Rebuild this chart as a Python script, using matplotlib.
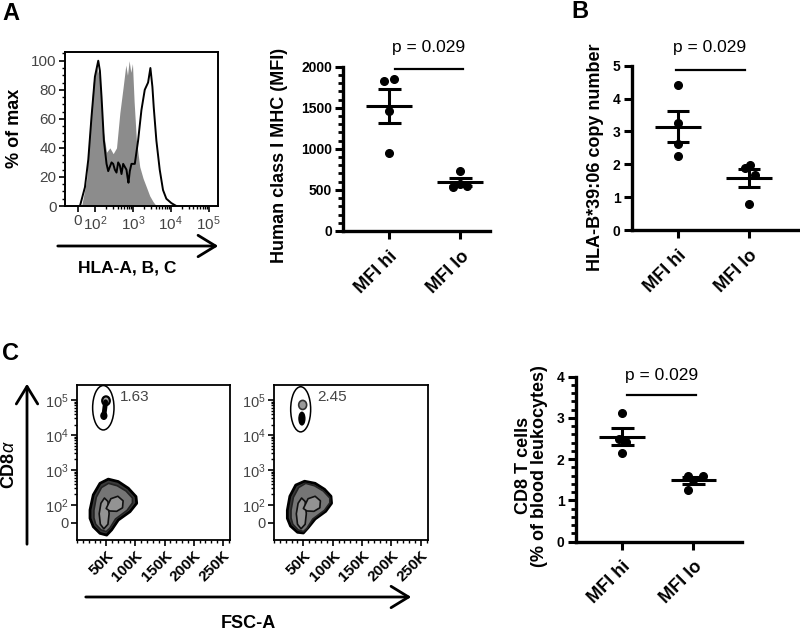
import numpy as np
import matplotlib as mpl
mpl.use('Agg')
import matplotlib.pyplot as plt
from matplotlib.patches import Ellipse, Polygon
from matplotlib.ticker import MultipleLocator, FixedLocator

mpl.rcParams.update({
    "font.family": ["Liberation Sans", "DejaVu Sans"],
    "mathtext.fontset": "custom",
    "mathtext.rm": "Liberation Sans",
    "mathtext.it": "Liberation Sans:italic",
    "mathtext.bf": "Liberation Sans:bold",
})

# ---- panel A: histogram (x in log10 display units, "0" sits at 1.55) ----
hist_fill_t = [1.649, 1.781, 1.868, 1.956, 2.044, 2.132, 2.219, 2.307, 2.395, 2.482, 2.570,
               2.658, 2.746, 2.816, 2.860, 2.904, 2.947, 2.991, 3.035, 3.096, 3.184, 3.272,
               3.360, 3.447, 3.535, 3.623]
hist_fill_pct = [0, 18, 55, 85, 96, 88, 52, 37, 40, 36, 40, 64, 82, 97, 90, 100, 92, 98,
                 72, 45, 27, 19, 13, 7, 3, 0]
hist_line_t = [1.605, 1.737, 1.825, 1.912, 2.0, 2.088, 2.132, 2.175, 2.237, 2.307, 2.351,
               2.395, 2.439, 2.482, 2.526, 2.570, 2.614, 2.658, 2.702, 2.746, 2.789, 2.833,
               2.860, 2.886, 2.921, 2.965, 3.053, 3.140, 3.228, 3.316, 3.404, 3.465, 3.518,
               3.553, 3.623, 3.711, 3.798, 3.886, 4.018, 4.149]
hist_line_pct = [0, 13, 32, 62, 89, 100, 93, 75, 45, 29, 24, 27, 30, 29, 25, 23, 30, 28,
                 22, 29, 27, 25, 20, 16, 24, 29, 29, 45, 66, 80, 85, 95, 82, 68, 45, 25,
                 11, 5, 2, 0]
hist_tick_pos = [1.55, 2, 3, 4, 5]
hist_tick_lab = ['0', '$10^2$', '$10^3$', '$10^4$', '$10^5$']

# ---- dot plots ----
groups = ['MFI hi', 'MFI lo']
mhc_hi = [1830, 1850, 1455, 955]
mhc_lo = [730, 570, 540, 550]
copy_hi = [4.42, 3.27, 2.62, 2.25]
copy_lo = [1.97, 1.90, 1.68, 0.78]
cd8_hi = [3.13, 2.48, 2.42, 2.14]
cd8_lo = [1.60, 1.60, 1.50, 1.25]
mhc_jit = ([-0.075, 0.066, 0, 0], [0, 0, -0.1, 0.1])
copy_jit = ([0, 0, 0, 0], [0.02, -0.06, 0.08, 0])
cd8_jit = ([0, -0.05, 0.06, 0], [-0.07, 0.13, 0, -0.07])
p_text = 'p = 0.029'

# ---- panel C: flow contour plots (FSC-A in K, CD8 in log10 display units) ----
low_outer_l_fsc = [22.3, 27.9, 39.4, 53.6, 70.7, 87.9, 101.1, 102.3, 90.8, 70.7, 59.4,
                   50.9, 39.4, 27.9, 22.3]
low_outer_l_t = [1.86, 2.29, 2.62, 2.74, 2.67, 2.48, 2.24, 2.05, 1.81, 1.57, 1.29, 1.14,
                 1.19, 1.38, 1.62]
low_outer_r_fsc = [22.7, 27, 37, 52, 70, 86, 97, 98, 88, 70, 58, 50, 40, 28, 22.7]
low_outer_r_t = [1.85, 2.25, 2.57, 2.68, 2.62, 2.45, 2.25, 2.05, 1.82, 1.60, 1.35, 1.20,
                 1.22, 1.40, 1.62]
low_mid_fsc = [29, 33, 42, 54, 69, 84, 95, 95, 86, 66, 56, 50, 41, 32, 29]
low_mid_t = [1.85, 2.22, 2.50, 2.62, 2.55, 2.40, 2.20, 2.06, 1.85, 1.60, 1.33, 1.24, 1.29,
             1.45, 1.63]
loop_a_fsc = [40, 46, 53, 55, 53, 47, 41, 38]
loop_a_t = [1.45, 1.32, 1.45, 1.75, 2.10, 2.20, 2.05, 1.75]
loop_b_fsc = [50, 58, 70, 79, 78, 68, 56]
loop_b_t = [1.90, 2.18, 2.25, 2.12, 1.92, 1.82, 1.83]
gate_fsc = [45.1, 45.4]
gate_t = [4.78, 4.735]
gate_w = [36.6, 34.0]
gate_h = [1.27, 1.29]
gate_pct = ['1.63', '2.45']
flow_ytick_pos = [1.486, 2, 3, 4, 5]
flow_ytick_lab = ['0', '$10^2$', '$10^3$', '$10^4$', '$10^5$']
flow_xticks = [50, 100, 150, 200, 250]

W, H = 800, 631
fig = plt.figure(figsize=(W / 100, H / 100), dpi=100)


def px_axes(left, top, right, bottom):
    return fig.add_axes([left / W, 1 - bottom / H, (right - left) / W, (bottom - top) / H])


def px_text(x, y, s, **kw):
    fig.text(x / W, 1 - y / H, s, **kw)


def px_arrow(x0, y0, x1, y1):
    fig.add_artist(mpl.patches.FancyArrowPatch(
        (x0 / W, 1 - y0 / H), (x1 / W, 1 - y1 / H), transform=fig.transFigure,
        arrowstyle='->,head_length=0.9,head_width=0.55', mutation_scale=14,
        lw=2, color='black'))


def dot_plot(ax, hi, lo, jit, ymax, major, minor, xmax, pline, ptext_xy, ylabel, ylab_xy):
    for i, (vals, jj) in enumerate(zip([hi, lo], jit)):
        x = i + 1
        vals = np.asarray(vals)
        m = vals.mean()
        sem = vals.std(ddof=1) / np.sqrt(len(vals))
        ax.plot(x + np.asarray(jj), vals, 'o', color='black', ms=5.5, clip_on=False, zorder=3)
        ax.hlines(m, x - 0.32, x + 0.32, color='black', lw=2.2)
        ax.vlines(x, m - sem, m + sem, color='black', lw=2.2)
        ax.hlines([m - sem, m + sem], x - 0.16, x + 0.16, color='black', lw=2.2)
    for s in ['top', 'right']:
        ax.spines[s].set_visible(False)
    for s in ['left', 'bottom']:
        ax.spines[s].set_linewidth(2.4)
    ax.set_xlim(0.35, xmax)
    ax.set_ylim(0, ymax)
    ticks = np.arange(0, ymax + major / 2, major)
    ax.set_yticks(ticks, [f'{v:g}' for v in ticks], fontsize=10, fontweight='bold')
    if minor:
        ax.yaxis.set_minor_locator(MultipleLocator(minor))
        ax.tick_params(axis='y', which='minor', length=3.5, width=2)
    ax.set_xticks([1, 2], groups, rotation=45, ha='right', rotation_mode='anchor',
                  fontsize=13, fontweight='bold')
    ax.tick_params(axis='both', which='major', length=6, width=2.2)
    ax.tick_params(axis='y', pad=2)
    ax.tick_params(axis='x', pad=6)
    ax.plot(pline[:2], [pline[2]] * 2, color='black', lw=1.6, clip_on=False)
    ax.text(ptext_xy[0], ptext_xy[1], p_text, ha='center', va='center', fontsize=12.5)
    ax.set_ylabel(ylabel, fontsize=13, fontweight='bold', ha='center', va='center',
                  multialignment='center', linespacing=0.95)
    ax.yaxis.set_label_coords(*ylab_xy)


# panel A histogram
ax = px_axes(65, 52, 218, 206)
ax.fill_between(hist_fill_t, hist_fill_pct, color='#8c8c8c', lw=0)
ax.plot(hist_line_t, hist_line_pct, color='black', lw=1.4)
ax.set_xlim(1.21, 5.25)
ax.set_ylim(0, 106)
ax.set_xticks(hist_tick_pos)
ax.set_xticklabels(hist_tick_lab)
ax.xaxis.set_minor_locator(FixedLocator(
    [np.log10(k * 10 ** d) for d in range(2, 5) for k in range(2, 10)]))
ax.yaxis.set_major_locator(MultipleLocator(20))
ax.yaxis.set_minor_locator(MultipleLocator(5))
ax.tick_params(axis='both', which='major', length=4, width=1.2, labelsize=11,
               labelcolor='#444', pad=2)
ax.tick_params(axis='both', which='minor', length=2, width=1)
for s in ax.spines.values():
    s.set_linewidth(1.4)
ax.set_ylabel('% of max', fontsize=13, fontweight='bold', ha='center', va='center')
ax.yaxis.set_label_coords(-0.327, 0.506)
px_arrow(55, 246, 221, 246)
px_text(127, 268, 'HLA-A, B, C', ha='center', va='center', fontsize=12.5, fontweight='bold')

# panel A dot plot
ax = px_axes(343, 66.7, 490, 231)
dot_plot(ax, mhc_hi, mhc_lo, mhc_jit, 2000, 500, 100, 2.42,
         (1.085, 2.04, 1970), (1.56, 2228), 'Human class I MHC (MFI)', (-0.43, 0.46))

# panel B dot plot
ax = px_axes(631.7, 65.7, 798, 230)
dot_plot(ax, copy_hi, copy_lo, copy_jit, 5, 1, None, 2.69,
         (0.97, 1.94, 4.87), (1.45, 5.54), 'HLA-B*39:06 copy number', (-0.22, 0.44))

# panel C dot plot
ax = px_axes(575.7, 376.7, 742, 541.7)
dot_plot(ax, cd8_hi, cd8_lo, cd8_jit, 4, 1, 0.2, 2.68,
         (1.07, 2.04, 3.55), (1.55, 4.04), 'CD8 T cells\n(% of blood leukocytes)',
         (-0.265, 0.46))

# panel C flow plots
flow_boxes = [(77, 385, 230, 540), (274, 385, 428, 540)]
low_outer = [(low_outer_l_fsc, low_outer_l_t), (low_outer_r_fsc, low_outer_r_t)]
for i, box in enumerate(flow_boxes):
    ax = px_axes(*box)
    fsc, t = low_outer[i]
    ax.add_patch(Polygon(np.column_stack([np.array(fsc) * 1000, t]), closed=True,
                         fc='#3a3a3a', ec='black', lw=2.0, joinstyle='round'))
    ax.add_patch(Polygon(np.column_stack([np.array(low_mid_fsc) * 1000, low_mid_t]),
                         closed=True, fc='#757575', ec='#222', lw=1.2, joinstyle='round'))
    for lf, lt in [(loop_a_fsc, loop_a_t), (loop_b_fsc, loop_b_t)]:
        ax.add_patch(Polygon(np.column_stack([np.array(lf) * 1000, lt]), closed=True,
                             fc='#939393', ec='#111', lw=1.2, joinstyle='round'))
    ax.add_patch(Ellipse((gate_fsc[i] * 1000, gate_t[i]), gate_w[i] * 1000, gate_h[i],
                         fc='none', ec='black', lw=1.1))
    if i == 0:
        ax.plot([49000, 46000], [4.95, 4.55], color='black', lw=3.5, solid_capstyle='round')
        ax.add_patch(Ellipse((46000, 4.55), 10000, 0.2, fc='black', ec='black'))
        ax.add_patch(Ellipse((49700, 4.98), 13000, 0.25, fc='#aaaaaa', ec='black', lw=1.6))
    else:
        ax.add_patch(Ellipse((47500, 4.47), 10000, 0.36, fc='black', ec='black'))
        ax.add_patch(Ellipse((48800, 4.86), 13500, 0.26, fc='#9a9a9a', ec='#333', lw=1.2))
    ax.text(73700, 5.09, gate_pct[i], ha='left', va='center', fontsize=11, color='#444')
    ax.set_xlim(0, 262144)
    ax.set_ylim(1.0, 5.43)
    ax.set_yticks(flow_ytick_pos)
    ax.set_yticklabels(flow_ytick_lab)
    ax.yaxis.set_minor_locator(FixedLocator(
        [np.log10(k * 10 ** d) for d in range(2, 5) for k in range(2, 10)]))
    ax.set_xticks([v * 1000 for v in flow_xticks])
    ax.set_xticklabels([f'{v}K' for v in flow_xticks], rotation=45, ha='right',
                       rotation_mode='anchor', fontsize=11, fontweight='bold')
    ax.xaxis.set_minor_locator(MultipleLocator(10000))
    ax.tick_params(axis='both', which='major', length=4, width=1.2, pad=2)
    ax.tick_params(axis='y', labelsize=10.5, labelcolor='#444')
    ax.tick_params(axis='both', which='minor', length=2, width=1)
    for s in ax.spines.values():
        s.set_linewidth(1.3)

px_arrow(27, 547, 27, 381)
px_text(10, 465, r'CD8$\alpha$', ha='center', va='center', rotation=90, fontsize=13,
        fontweight='bold')
px_arrow(83, 597, 414, 597)
px_text(248, 624, 'FSC-A', ha='center', va='center', fontsize=13, fontweight='bold')

# panel letters
px_text(2, 14, 'A', ha='left', va='center', fontsize=17, fontweight='bold')
px_text(571, 11, 'B', ha='left', va='center', fontsize=17, fontweight='bold')
px_text(2, 354, 'C', ha='left', va='center', fontsize=17, fontweight='bold')

fig.savefig('out.png', dpi=100)
